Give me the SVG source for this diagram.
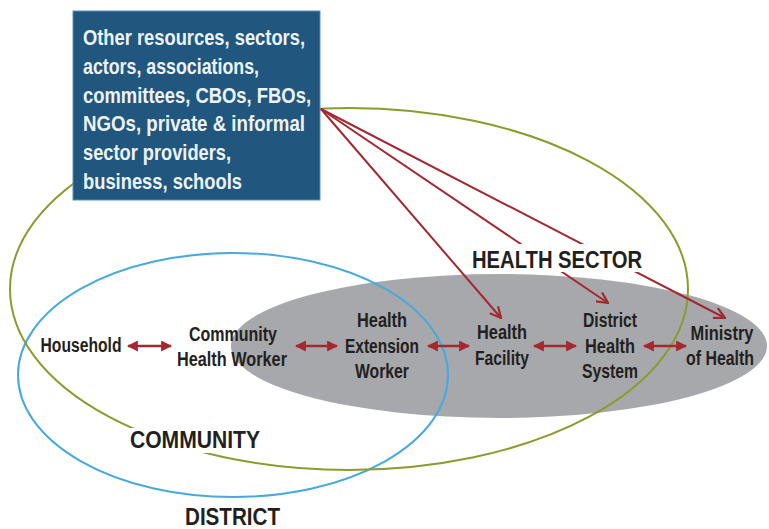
<svg xmlns="http://www.w3.org/2000/svg" width="769" height="529" viewBox="0 0 769 529">
<defs>
<style>
text{font-family:"Liberation Sans",Arial,sans-serif;font-weight:bold;fill:#231f20}
.node{font-size:20px;text-anchor:middle}
.box{font-size:22px;fill:#eef3f7;font-weight:bold}
.lbl{font-size:24px}
.fan{stroke:#a3282f;stroke-width:2;fill:none;marker-end:url(#open)}
.dbl{stroke:#a3282f;stroke-width:2.5;fill:none;marker-start:url(#solid);marker-end:url(#solid)}
</style>
<marker id="open" viewBox="0 0 12 12" refX="11" refY="6" markerWidth="13" markerHeight="13" markerUnits="userSpaceOnUse" orient="auto">
<path d="M1,1 L11,6 L1,11" fill="none" stroke="#a3282f" stroke-width="2"/>
</marker>
<marker id="solid" viewBox="0 0 10 10" refX="9" refY="5" markerWidth="11" markerHeight="11" markerUnits="userSpaceOnUse" orient="auto-start-reverse">
<path d="M0,0 L10,5 L0,10 z" fill="#a3282f"/>
</marker>
</defs>
<rect width="769" height="529" fill="#ffffff"/>
<g id="regions">
<ellipse id="health-system-area" cx="499" cy="346" rx="268" ry="72" fill="#a7a8ab"/>
<ellipse id="district" cx="233" cy="375" rx="215" ry="122" fill="none" stroke="#47a9dd" stroke-width="2"/>
<ellipse id="health-sector" cx="349" cy="289" rx="339" ry="181" fill="none" stroke="#8c9b2e" stroke-width="2"/>
</g>
<g id="other-resources">
<rect x="73" y="11" width="247" height="189" fill="#21577f" stroke="#5d8db3" stroke-width="1"/>
<text class="box" x="83" y="45" textLength="222" lengthAdjust="spacingAndGlyphs">Other resources, sectors,</text>
<text class="box" x="83" y="73.8" textLength="176" lengthAdjust="spacingAndGlyphs">actors, associations,</text>
<text class="box" x="83" y="102.6" textLength="228" lengthAdjust="spacingAndGlyphs">committees, CBOs, FBOs,</text>
<text class="box" x="83" y="131.4" textLength="222" lengthAdjust="spacingAndGlyphs">NGOs, private &amp; informal</text>
<text class="box" x="83" y="160.2" textLength="148" lengthAdjust="spacingAndGlyphs">sector providers,</text>
<text class="box" x="83" y="189" textLength="159" lengthAdjust="spacingAndGlyphs">business, schools</text>
</g>
<g id="connectors">
<line class="fan" x1="321" y1="109" x2="501" y2="318"/>
<line class="fan" x1="321" y1="109" x2="608" y2="303"/>
<line class="fan" x1="321" y1="109" x2="725" y2="318"/>
<line class="dbl" x1="128" y1="346" x2="171" y2="346"/>
<line class="dbl" x1="296" y1="346" x2="337" y2="346"/>
<line class="dbl" x1="428" y1="346" x2="469" y2="346"/>
<line class="dbl" x1="534" y1="346" x2="576" y2="346"/>
<line class="dbl" x1="644" y1="346" x2="686" y2="346"/>
</g>
<g id="label-health-sector">
<rect x="466" y="244" width="182" height="28" fill="#ffffff"/>
<text class="lbl" x="472" y="268" textLength="170" lengthAdjust="spacingAndGlyphs">HEALTH SECTOR</text>
</g>
<g id="label-community">
<rect x="122" y="428" width="144" height="25" fill="#ffffff"/>
<text class="lbl" x="130" y="448" font-size="21" textLength="130" lengthAdjust="spacingAndGlyphs">COMMUNITY</text>
</g>
<g id="label-district">
<text class="lbl" x="185" y="525" font-size="21" textLength="95" lengthAdjust="spacingAndGlyphs">DISTRICT</text>
</g>
<g id="household"><text class="node" x="81" y="352" textLength="81" lengthAdjust="spacingAndGlyphs">Household</text></g>
<g id="community-health-worker">
<text class="node" x="233" y="341" textLength="88" lengthAdjust="spacingAndGlyphs">Community</text>
<text class="node" x="232" y="366" textLength="110" lengthAdjust="spacingAndGlyphs">Health Worker</text>
</g>
<g id="health-extension-worker">
<text class="node" x="382" y="327" textLength="50" lengthAdjust="spacingAndGlyphs">Health</text>
<text class="node" x="382" y="353" textLength="74" lengthAdjust="spacingAndGlyphs">Extension</text>
<text class="node" x="382" y="378" textLength="54" lengthAdjust="spacingAndGlyphs">Worker</text>
</g>
<g id="health-facility">
<text class="node" x="502" y="339" textLength="50" lengthAdjust="spacingAndGlyphs">Health</text>
<text class="node" x="502" y="365" textLength="54" lengthAdjust="spacingAndGlyphs">Facility</text>
</g>
<g id="district-health-system">
<text class="node" x="610" y="327" textLength="54" lengthAdjust="spacingAndGlyphs">District</text>
<text class="node" x="610" y="353" textLength="50" lengthAdjust="spacingAndGlyphs">Health</text>
<text class="node" x="610" y="378" textLength="56" lengthAdjust="spacingAndGlyphs">System</text>
</g>
<g id="ministry-of-health">
<text class="node" x="722" y="340" textLength="63" lengthAdjust="spacingAndGlyphs">Ministry</text>
<text class="node" x="720" y="365" textLength="68" lengthAdjust="spacingAndGlyphs">of Health</text>
</g>
</svg>
